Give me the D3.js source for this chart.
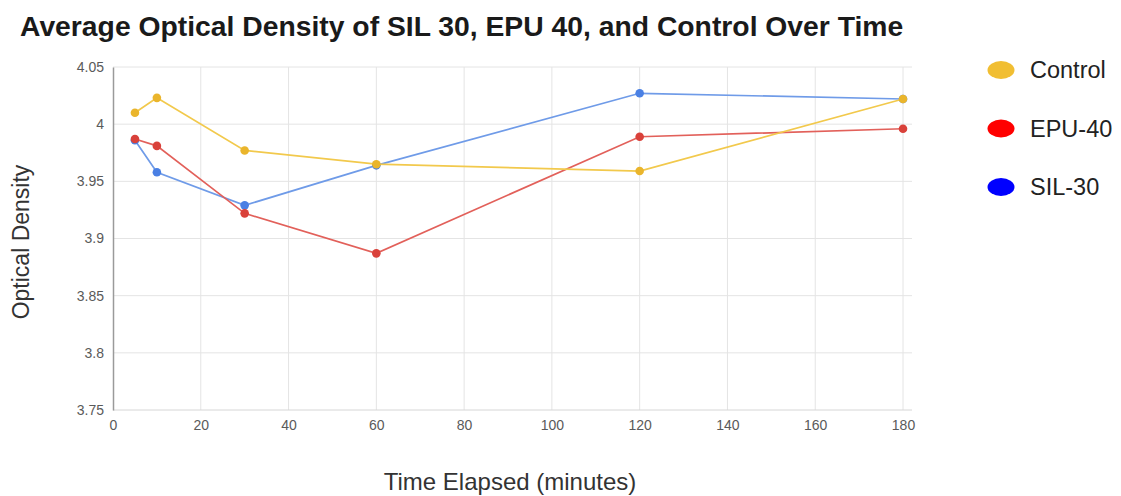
<!DOCTYPE html>
<html>
<head>
<meta charset="utf-8">
<script src="https://cdn.jsdelivr.net/npm/d3@7"></script>
<style>
  body { margin: 0; background: #fff; }
  text { font-family: "Liberation Sans", Arial, sans-serif; }
</style>
</head>
<body>
<div id="chart"></div>
<script>
var w = 1121;
var h = 496;

// data
var times = [5, 10, 30, 60, 120, 180];
var control = [4.010, 4.023, 3.977, 3.965, 3.959, 4.022];
var epu40 = [3.987, 3.981, 3.922, 3.887, 3.989, 3.996];
var sil30 = [3.986, 3.958, 3.929, 3.964, 4.027, 4.022];
var xTicks = [0, 20, 40, 60, 80, 100, 120, 140, 160, 180];
var yTicks = [3.75, 3.8, 3.85, 3.9, 3.95, 4, 4.05];

var series = [
  { name: "SIL-30", values: sil30, line: "#6f9be8", dot: "#4a80e4", key: "#0000ff" },
  { name: "EPU-40", values: epu40, line: "#e2605a", dot: "#d9413a", key: "#ff0000" },
  { name: "Control", values: control, line: "#f2c94c", dot: "#eab52c", key: "#f1be32" }
];
var legendOrder = ["Control", "EPU-40", "SIL-30"];

var svg = d3.select("#chart")
  .append("svg")
  .attr("width", w)
  .attr("height", h);

var x = d3.scaleLinear().domain([0, 180]).range([113, 903]);
var y = d3.scaleLinear().domain([3.75, 4.05]).range([410, 67]);
var right = 912;

// gridlines
svg.append("g").selectAll("line.hg")
  .data(yTicks.slice(1))
  .enter().append("line")
  .attr("x1", x(0)).attr("x2", right)
  .attr("y1", function (d) { return y(d); })
  .attr("y2", function (d) { return y(d); })
  .style("stroke", "#e4e4e4").style("stroke-width", 1);

svg.append("g").selectAll("line.vg")
  .data(xTicks.slice(1))
  .enter().append("line")
  .attr("y1", y(4.05)).attr("y2", y(3.75))
  .attr("x1", function (d) { return x(d); })
  .attr("x2", function (d) { return x(d); })
  .style("stroke", "#e4e4e4").style("stroke-width", 1);

// bottom baseline and left axis
svg.append("line")
  .attr("x1", x(0)).attr("x2", right)
  .attr("y1", y(3.75)).attr("y2", y(3.75))
  .style("stroke", "#d6d6d6");

var yAxis = svg.append("g")
  .attr("transform", "translate(" + x(0) + ",0)")
  .call(d3.axisLeft(y).tickValues(yTicks).tickSize(0).tickPadding(9)
    .tickFormat(function (d) { return d3.format("")(+d.toFixed(2)); }));
yAxis.select(".domain").style("stroke", "#9a9a9a").style("stroke-width", 1.5);
yAxis.selectAll("text").style("font-size", "14px").style("fill", "#5a5a5a")
  .style("font-family", "'Liberation Sans', Arial, sans-serif");

var xAxis = svg.append("g")
  .attr("transform", "translate(0," + y(3.75) + ")")
  .call(d3.axisBottom(x).tickValues(xTicks).tickSize(0).tickPadding(10));
xAxis.select(".domain").remove();
xAxis.selectAll("text").style("font-size", "14px").style("fill", "#5a5a5a")
  .style("font-family", "'Liberation Sans', Arial, sans-serif");

// lines and points
var line = d3.line()
  .x(function (d) { return x(d[0]); })
  .y(function (d) { return y(d[1]); });

series.forEach(function (s) {
  var pts = times.map(function (t, i) { return [t, s.values[i]]; });
  svg.append("path")
    .datum(pts)
    .attr("d", line)
    .style("fill", "none")
    .style("stroke", s.line)
    .style("stroke-width", 1.7);
  svg.append("g").selectAll("circle")
    .data(pts)
    .enter().append("circle")
    .attr("cx", function (d) { return x(d[0]); })
    .attr("cy", function (d) { return y(d[1]); })
    .attr("r", 4.3)
    .style("fill", s.dot);
});

// titles
svg.append("text")
  .attr("x", 20).attr("y", 36)
  .style("font-size", "28.3px").style("font-weight", "bold").style("fill", "#1a1a1a")
  .text("Average Optical Density of SIL 30, EPU 40, and Control Over Time");

svg.append("text")
  .attr("transform", "translate(29,242) rotate(-90)")
  .attr("text-anchor", "middle")
  .style("font-size", "23px").style("fill", "#333")
  .text("Optical Density");

svg.append("text")
  .attr("x", 510).attr("y", 490)
  .attr("text-anchor", "middle")
  .style("font-size", "24px").style("fill", "#333")
  .text("Time Elapsed (minutes)");

// legend
var leg = svg.append("g").selectAll("g")
  .data(legendOrder)
  .enter().append("g")
  .attr("transform", function (d, i) { return "translate(1001," + (70 + i * 58.5) + ")"; });
leg.append("ellipse")
  .attr("rx", 13.5).attr("ry", 9)
  .style("fill", function (d) { return series.find(function (s) { return s.name == d; }).key; });
leg.append("text")
  .attr("x", 29).attr("y", 8)
  .style("font-size", "23.5px").style("fill", "#222")
  .text(function (d) { return d; });
</script>
</body>
</html>
